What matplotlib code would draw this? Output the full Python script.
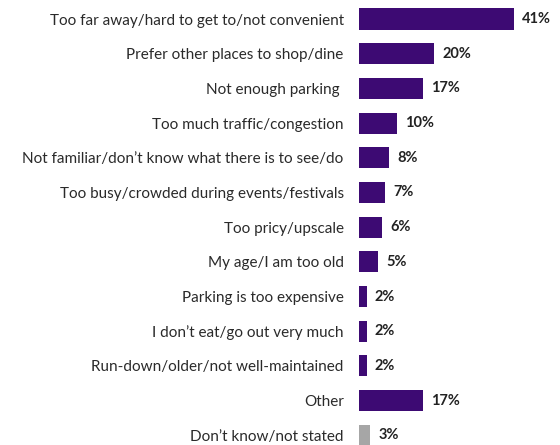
import matplotlib.pyplot as plt

reasons = [
    "Too far away/hard to get to/not convenient",
    "Prefer other places to shop/dine",
    "Not enough parking ",
    "Too much traffic/congestion",
    "Not familiar/don\u2019t know what there is to see/do",
    "Too busy/crowded during events/festivals",
    "Too pricy/upscale",
    "My age/I am too old",
    "Parking is too expensive",
    "I don\u2019t eat/go out very much",
    "Run-down/older/not well-maintained",
    "Other",
    "Don\u2019t know/not stated",
]
pct = [41, 20, 17, 10, 8, 7, 6, 5, 2, 2, 2, 17, 3]

purple = "#3d0a73"
grey = "#a6a6a6"
colors = [purple] * (len(pct) - 1) + [grey]

plt.rcParams["font.family"] = ["Lato", "DejaVu Sans"]

fig = plt.figure(figsize=(5.6, 4.45), dpi=100)
ax = fig.add_axes([0.641, 0.0, 0.34, 1.0])

ypos = list(range(len(pct)))
ax.barh(ypos, pct, height=0.61, color=colors)

for y, v in zip(ypos, pct):
    ax.text(v + 2.2, y, f"{v}%", va="center", ha="left",
            fontsize=10.5, fontweight="bold", color="#222222")

ax.set_yticks(ypos)
ax.set_yticklabels(reasons, fontsize=11, color="#2a2a2a")
ax.tick_params(axis="y", length=0, pad=11)
ax.set_xticks([])
ax.set_xlim(0, 50.5)
ax.set_ylim(12.28, -0.55)
for s in ax.spines.values():
    s.set_visible(False)

fig.savefig("out.png", dpi=100)
